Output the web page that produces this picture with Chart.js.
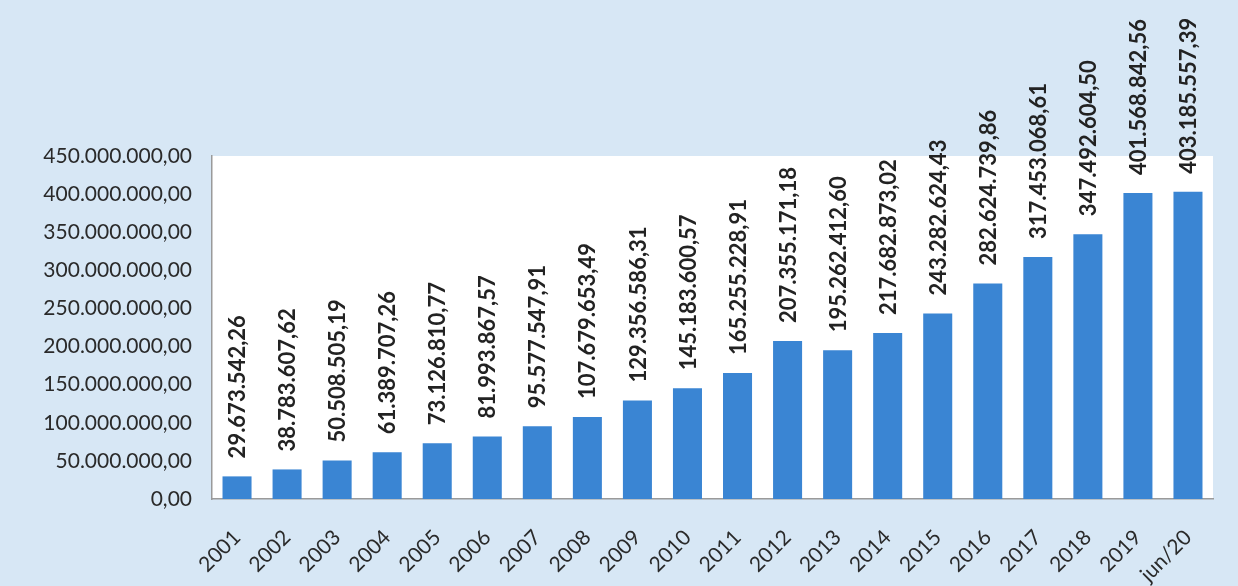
<!DOCTYPE html>
<html><head><meta charset="utf-8">
<script src="https://cdn.jsdelivr.net/npm/chart.js@4"></script>
<style>html,body{margin:0;padding:0;background:#d7e7f5;}#wrap{width:1238px;height:586px;}</style>
</head><body><div id="wrap"><canvas id="c" width="1238" height="586"></canvas></div>
<script>
const categories = ["2001","2002","2003","2004","2005","2006","2007","2008","2009","2010","2011","2012","2013","2014","2015","2016","2017","2018","2019","jun/20"];
const values = [29673542.26,38783607.62,50508505.19,61389707.26,73126810.77,81993867.57,95577547.91,107679653.49,129356586.31,145183600.57,165255228.91,207355171.18,195262412.60,217682873.02,243282624.43,282624739.86,317453068.61,347492604.50,401568842.56,403185557.39];
const yTicks = [0,50000000,100000000,150000000,200000000,250000000,300000000,350000000,400000000,450000000];

const fmt = v => v.toLocaleString('pt-BR',{minimumFractionDigits:2,maximumFractionDigits:2});

const plotBg = {id:'plotBg', beforeDraw(chart){const {ctx,chartArea:a}=chart;ctx.save();ctx.fillStyle='#ffffff';ctx.fillRect(a.left,a.top,a.right-a.left,a.bottom-a.top);ctx.restore();}};
const labels = {id:'labels', afterDatasetsDraw(chart){const {ctx}=chart;const meta=chart.getDatasetMeta(0);ctx.save();ctx.font='bold 22px Lato';ctx.fillStyle='#222';ctx.textAlign='left';ctx.textBaseline='middle';
meta.data.forEach((b,i)=>{ctx.save();ctx.translate(b.x,b.y-18);ctx.rotate(-Math.PI/2);ctx.fillText(fmt(values[i]),0,1);ctx.restore();});ctx.restore();}};

new Chart(document.getElementById('c'),{
type:'bar',
data:{labels:categories,datasets:[{data:values,backgroundColor:'#3a85d3',barPercentage:0.58,categoryPercentage:1}]},
options:{responsive:false,animation:false,
layout:{padding:{left:0,top:156,right:25,bottom:0}},
plugins:{legend:{display:false},tooltip:{enabled:false}},
scales:{
 x:{grid:{display:false,drawTicks:false},border:{display:true,color:'#9a9a9a',width:1.5},
  ticks:{color:'#2a2a2a',font:{family:'Lato',size:21},minRotation:45,maxRotation:45,padding:26,autoSkip:false},
  afterFit(s){s.height=87;}},
 y:{min:0,max:450000000,grid:{display:false,drawTicks:false},border:{display:true,color:'#9a9a9a',width:1.5},
  afterBuildTicks(s){s.ticks=yTicks.map(v=>({value:v}));},
  ticks:{color:'#2a2a2a',font:{family:'Lato',size:21},padding:20,callback:v=>fmt(v)},
  afterFit(s){s.width=212;}}
}},
plugins:[plotBg,labels]
});
</script></body></html>
